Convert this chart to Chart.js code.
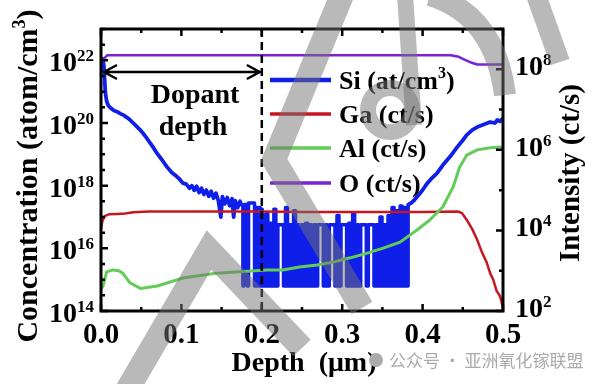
<!DOCTYPE html>
<html lang="zh">
<head>
<meta charset="UTF-8">
<title>SIMS depth profile</title>
<script src="https://cdn.jsdelivr.net/npm/chart.js"></script>
<style>
  html, body { margin: 0; padding: 0; background: #fff; }
  #wrap { width: 592px; height: 384px; }
</style>
</head>
<body>
<div id="wrap"><canvas id="sims" width="592" height="384"></canvas></div>
<script>
// depth in um, values as log10 (Si: atom/cm3 on left axis, others: ct/s on right axis)
// Si, surface decay
const siHeadDepth = [
  0.000, 0.002, 0.0035, 0.0045, 0.0055, 0.007, 0.009, 0.012, 0.016, 0.020, 0.024, 0.028, 0.032, 0.036,
  0.040, 0.044, 0.048, 0.052, 0.056, 0.060, 0.065, 0.070, 0.076, 0.082, 0.088, 0.094, 0.098, 0.102,
  0.106, 0.110, 0.113, 0.116, 0.119, 0.122, 0.125, 0.128, 0.131, 0.134, 0.137, 0.140, 0.143, 0.146,
  0.149, 0.151, 0.154, 0.157, 0.160, 0.163, 0.165, 0.167, 0.170, 0.173, 0.175
];
const siHeadLog = [
  21.95, 22.05, 21.85, 21.4, 20.95, 20.7, 20.56, 20.48, 20.4, 20.36, 20.3, 20.25, 20.18, 20.1,
  20.0, 19.9, 19.8, 19.68, 19.55, 19.4, 19.22, 19.02, 18.82, 18.6, 18.42, 18.3, 18.2, 18.08,
  18.05, 17.92, 18.0, 17.85, 17.98, 17.78, 17.92, 17.72, 17.86, 17.66, 17.82, 17.6, 17.76, 17.52,
  17.0, 17.65, 17.42, 17.62, 17.36, 17.58, 17.0, 17.52, 17.3, 17.5, 17.35
];
// Si, detection-limit noise (drawn stepped)
const siNoiseDepth = [
  0.175, 0.1765, 0.178, 0.182, 0.1835, 0.191, 0.1925, 0.195, 0.1965, 0.198, 0.1995, 0.2005, 0.202, 0.2035,
  0.205, 0.2075, 0.210, 0.2125, 0.215, 0.2175, 0.220, 0.227, 0.2295, 0.232, 0.2345, 0.237, 0.2395, 0.242,
  0.2445, 0.247, 0.2495, 0.252, 0.2545, 0.257, 0.2595, 0.262, 0.2645, 0.267, 0.2695, 0.2765, 0.279, 0.2815,
  0.284, 0.291, 0.2935, 0.296, 0.2985, 0.3055, 0.308, 0.3105, 0.313, 0.3155, 0.318, 0.3205, 0.323, 0.330,
  0.3325, 0.3395, 0.342, 0.3445, 0.347, 0.3495, 0.352, 0.3545, 0.357, 0.3595, 0.362, 0.3645, 0.367, 0.3695,
  0.372, 0.3745, 0.377, 0.3795, 0.382, 0.3825
];
const siNoiseLog = [
  17.35, 14.8, 17.4, 14.8, 17.45, 14.8, 17.3, 14.8, 17.3, 14.8, 17.25, 14.8, 17.05, 14.8,
  17.1, 14.8, 16.8, 14.8, 17.25, 14.8, 16.75, 14.8, 17.3, 14.8, 16.75, 14.8, 17.2, 14.8,
  16.75, 14.8, 16.75, 14.8, 16.8, 14.8, 16.75, 14.8, 16.75, 14.8, 16.75, 14.8, 16.75, 14.8,
  16.75, 14.8, 17.05, 14.8, 16.75, 14.8, 16.8, 14.8, 17.1, 14.8, 16.75, 14.8, 16.75, 14.8,
  16.75, 14.8, 16.75, 14.8, 17.0, 14.8, 16.75, 14.8, 17.05, 14.8, 17.3, 14.8, 17.2, 14.8,
  17.35, 14.8, 17.3, 14.8, 17.4, 17.4
];
// Si, rise into the substrate
const siTailDepth = [0.3825, 0.386, 0.390, 0.395, 0.400, 0.405, 0.410, 0.418, 0.425, 0.434, 0.443, 0.450,
  0.455, 0.462, 0.468, 0.476, 0.484, 0.490, 0.493, 0.496, 0.500];
const siTailLog = [17.4, 17.45, 17.55, 17.7, 17.86, 18.05, 18.2, 18.4, 18.65, 18.92, 19.23, 19.45,
  19.62, 19.78, 19.87, 19.95, 20.03, 20.0, 20.1, 20.05, 20.15];

const gaDepth = [0.000, 0.002, 0.005, 0.010, 0.020, 0.030, 0.040, 0.060, 0.100, 0.150, 0.200, 0.250,
  0.300, 0.350, 0.400, 0.444, 0.449, 0.455, 0.462, 0.468, 0.474, 0.480, 0.484, 0.488, 0.492, 0.496, 0.498, 0.500];
const gaLog = [4.05, 4.25, 4.36, 4.40, 4.41, 4.42, 4.45, 4.47, 4.47, 4.47, 4.47, 4.46,
  4.46, 4.46, 4.46, 4.47, 4.43, 4.26, 4.02, 3.76, 3.45, 3.19, 2.94, 2.77, 2.5, 2.38, 2.25, 2.05];

const alDepth = [0.000, 0.0025, 0.007, 0.015, 0.022, 0.027, 0.036, 0.049, 0.070, 0.102, 0.144, 0.206,
  0.226, 0.247, 0.269, 0.290, 0.310, 0.330, 0.351, 0.372, 0.393, 0.409, 0.425, 0.438, 0.446, 0.455,
  0.468, 0.484, 0.500];
const alLog = [2.55, 2.62, 2.97, 3.02, 3.0, 2.94, 2.7, 2.56, 2.62, 2.82, 2.94, 3.02,
  3.02, 3.09, 3.14, 3.22, 3.32, 3.43, 3.56, 3.71, 4.01, 4.26, 4.58, 5.08, 5.57, 5.87,
  6.0, 6.05, 6.07];

const oDepth = [0.000, 0.003, 0.008, 0.100, 0.200, 0.300, 0.400, 0.435, 0.445, 0.452, 0.460, 0.468, 0.500];
const oLog = [8.15, 8.25, 8.35, 8.35, 8.35, 8.35, 8.35, 8.35, 8.31, 8.24, 8.17, 8.12, 8.12];

const xTicks = [0.0, 0.1, 0.2, 0.3, 0.4, 0.5];
const leftExp = [14, 16, 18, 20, 22];
const rightExp = [2, 4, 6, 8];
const dopantDepth = 0.2;

const SI_BLUE = '#0f1ee8';
const FONT = "'Liberation Serif', 'Times New Roman', serif";
const toPts = (d, l) => d.map((v, i) => ({ x: v, y: Math.pow(10, l[i]) }));

// text with superscript pieces: parts = [[text, isSup], ...]
function rich(ctx, parts, x, y, size, align, supSize, rise) {
    supSize = supSize || Math.round(size * 0.62);
    rise = rise || size * 0.38;
    let total = 0;
    const widths = parts.map(([t, s]) => {
        ctx.font = `bold ${s ? supSize : size}px ${FONT}`;
        const w = ctx.measureText(t).width;
        total += w;
        return w;
    });
    let cx = align === 'center' ? x - total / 2 : align === 'right' ? x - total : x;
    ctx.textAlign = 'left';
    ctx.textBaseline = 'alphabetic';
    parts.forEach(([t, s], i) => {
        ctx.font = `bold ${s ? supSize : size}px ${FONT}`;
        ctx.fillText(t, cx, s ? y - rise : y);
        cx += widths[i];
    });
}

const decor = {
    id: 'decor',
    afterDatasetsDraw(chart) {
        const ctx = chart.ctx;
        const a = chart.chartArea;
        const xs = chart.scales.x, yl = chart.scales.y, yr = chart.scales.y1;
        ctx.save();
        ctx.strokeStyle = '#000';
        ctx.fillStyle = '#000';

        // dashed marker at dopant depth
        const xd = xs.getPixelForValue(dopantDepth);
        ctx.lineWidth = 2.5;
        ctx.setLineDash([8, 5]);
        ctx.beginPath(); ctx.moveTo(xd, a.top); ctx.lineTo(xd, a.bottom); ctx.stroke();
        ctx.setLineDash([]);

        // double arrow
        const ay = 72, ax0 = a.left + 3, ax1 = xd - 2;
        ctx.lineWidth = 2.5;
        ctx.beginPath();
        ctx.moveTo(ax0, ay); ctx.lineTo(ax1, ay);
        ctx.moveTo(ax0 + 13, ay - 7); ctx.lineTo(ax0, ay); ctx.lineTo(ax0 + 13, ay + 7);
        ctx.moveTo(ax1 - 13, ay - 7); ctx.lineTo(ax1, ay); ctx.lineTo(ax1 - 13, ay + 7);
        ctx.stroke();
        rich(ctx, [['Dopant', 0]], 195, 103, 28, 'center');
        rich(ctx, [['depth', 0]], 193, 135, 28, 'center');

        // legend
        const leg = [
            [SI_BLUE, [['Si (at/cm', 0], ['3', 1], [')', 0]], 80, 4.5],
            ['#c8161e', [['Ga (ct/s)', 0]], 114, 3.5],
            ['#63cc57', [['Al (ct/s)', 0]], 148, 3.5],
            ['#7a22d8', [['O (ct/s)', 0]], 183, 3.5]
        ];
        leg.forEach(([c, parts, y, w]) => {
            ctx.strokeStyle = c; ctx.lineWidth = w;
            ctx.beginPath(); ctx.moveTo(270, y); ctx.lineTo(331, y); ctx.stroke();
            ctx.fillStyle = '#000';
            rich(ctx, parts, 339, y + 9, 26, 'left', 16, 11);
        });

        // frame
        ctx.strokeStyle = '#000';
        ctx.lineWidth = 3;
        ctx.strokeRect(a.left, a.top, a.right - a.left, a.bottom - a.top);

        // ticks (inward)
        ctx.lineWidth = 2.5;
        ctx.beginPath();
        for (let v = 0; v <= 0.5001; v += 0.05) {
            const px = xs.getPixelForValue(v);
            const major = Math.abs(v * 10 - Math.round(v * 10)) < 1e-6;
            const L = major ? 7 : 4;
            ctx.moveTo(px, a.bottom); ctx.lineTo(px, a.bottom - L);
            ctx.moveTo(px, a.top); ctx.lineTo(px, a.top + L);
        }
        for (let e = 14; e <= 23.001; e += 0.5) {
            const py = yl.getPixelForValue(Math.pow(10, e));
            const L = (Math.abs(e % 2) < 1e-6) ? 7 : 4;
            ctx.moveTo(a.left, py); ctx.lineTo(a.left + L, py);
        }
        for (let e = 2; e <= 9; e++) {
            const py = yr.getPixelForValue(Math.pow(10, e));
            const L = (e % 2 === 0) ? 7 : 4;
            ctx.moveTo(a.right, py); ctx.lineTo(a.right - L, py);
        }
        ctx.stroke();

        // tick labels
        ctx.fillStyle = '#000';
        leftExp.forEach(e => {
            const py = yl.getPixelForValue(Math.pow(10, e));
            rich(ctx, [['10', 0], [String(e), 1]], 94, py + 11, 28, 'right', 17, 10);
        });
        rightExp.forEach(e => {
            const py = yr.getPixelForValue(Math.pow(10, e));
            rich(ctx, [['10', 0], [String(e), 1]], 515, py + 6, 28, 'left', 17, 10);
        });
        xTicks.forEach(v => {
            rich(ctx, [[v.toFixed(1), 0]], xs.getPixelForValue(v), 343, 29, 'center');
        });

        // axis titles
        rich(ctx, [['Depth  (\u03bcm)', 0]], 304, 371, 28, 'center');
        ctx.save();
        ctx.translate(37, 176); ctx.rotate(-Math.PI / 2);
        rich(ctx, [['Concentration (atom/cm', 0], ['3', 1], [')', 0]], 0, 0, 30, 'center', 18, 12);
        ctx.restore();
        ctx.save();
        ctx.translate(579, 173); ctx.rotate(-Math.PI / 2);
        rich(ctx, [['Intensity (ct/s)', 0]], 0, 0, 29, 'center');
        ctx.restore();

        // page watermark
        ctx.strokeStyle = 'rgba(115,115,115,0.5)';
        ctx.lineCap = 'butt';
        ctx.lineJoin = 'miter';
        ctx.lineWidth = 24;
        ctx.beginPath();
        ctx.moveTo(126, 392); ctx.lineTo(209, 250); ctx.lineTo(302, 348);
        ctx.stroke();
        ctx.beginPath();
        ctx.moveTo(342, -5); ctx.lineTo(274, 160); ctx.lineTo(362, 308);
        ctx.stroke();
        ctx.lineWidth = 16;
        ctx.beginPath(); ctx.arc(390, 110, 22, 0, Math.PI * 2); ctx.stroke();
        ctx.beginPath(); ctx.moveTo(405, -5); ctx.lineTo(414, 125); ctx.stroke();
        ctx.lineWidth = 22;
        ctx.beginPath(); ctx.moveTo(430, -5); ctx.quadraticCurveTo(495, 15, 505, 95); ctx.stroke();
        ctx.lineWidth = 20;
        ctx.beginPath(); ctx.moveTo(536, -5); ctx.lineTo(560, 62); ctx.stroke();

        ctx.fillStyle = '#ababab';
        ctx.beginPath(); ctx.arc(376, 360, 7, 0, Math.PI * 2); ctx.fill();
        ctx.font = `17px 'Noto Sans CJK SC', sans-serif`;
        ctx.textAlign = 'left';
        ctx.textBaseline = 'alphabetic';
        ctx.fillText('公众号 · 亚洲氧化镓联盟', 389, 367);
        ctx.restore();
    }
};

new Chart(document.getElementById('sims'), {
    type: 'line',
    data: {
        datasets: [
            { label: 'O (ct/s)', data: toPts(oDepth, oLog), yAxisID: 'y1', borderColor: '#7a22d8', borderWidth: 2.5, order: 0 },
            { label: 'Al (ct/s)', data: toPts(alDepth, alLog), yAxisID: 'y1', borderColor: '#63cc57', borderWidth: 3, order: 1 },
            { label: 'Ga (ct/s)', data: toPts(gaDepth, gaLog), yAxisID: 'y1', borderColor: '#c8161e', borderWidth: 2.5, order: 2 },
            { label: 'Si (at/cm3)', data: toPts(siHeadDepth, siHeadLog), yAxisID: 'y', borderColor: SI_BLUE, borderWidth: 3.8, order: 3 },
            { label: 'Si noise', data: toPts(siNoiseDepth, siNoiseLog), yAxisID: 'y', borderColor: SI_BLUE, borderWidth: 3.5, stepped: true, order: 4 },
            { label: 'Si bulk', data: toPts(siTailDepth, siTailLog), yAxisID: 'y', borderColor: SI_BLUE, borderWidth: 3.8, order: 5 }
        ]
    },
    options: {
        responsive: false,
        animation: false,
        devicePixelRatio: 1,
        layout: { padding: { left: 101, right: 89, top: 29, bottom: 73 } },
        elements: { point: { radius: 0 }, line: { tension: 0, borderJoinStyle: 'round' } },
        plugins: { legend: { display: false }, tooltip: { enabled: false } },
        scales: {
            x: { type: 'linear', min: 0, max: 0.5, display: false },
            y: { type: 'logarithmic', position: 'left', min: 1e14, max: 1e23, display: false },
            y1: { type: 'logarithmic', position: 'right', min: 1e2, max: 1e9, display: false }
        }
    },
    plugins: [decor]
});
</script>
</body>
</html>
